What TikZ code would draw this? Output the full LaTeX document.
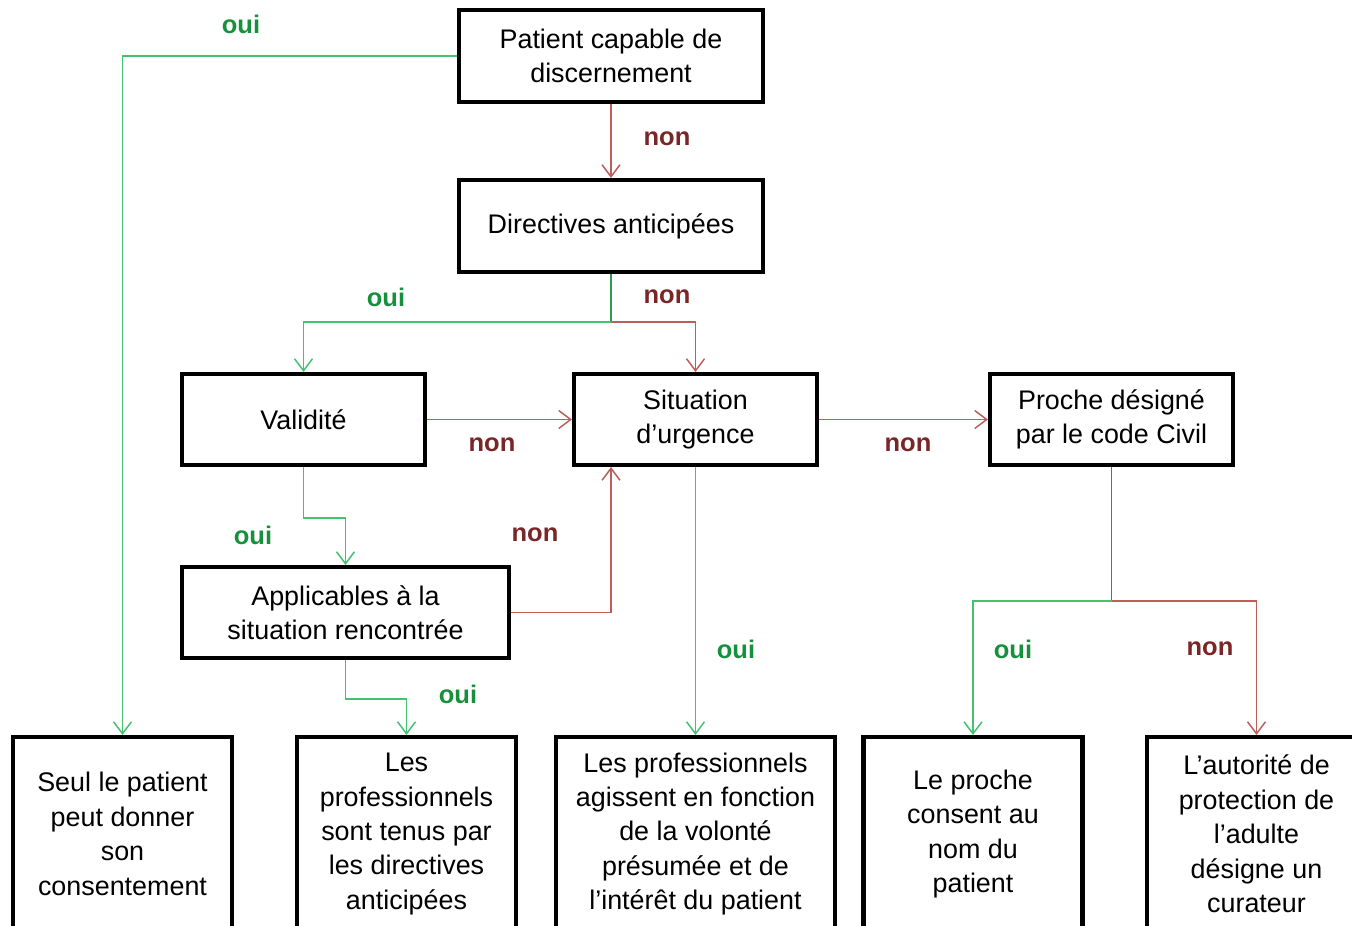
\documentclass[tikz,border=0pt]{standalone}
\usepackage{fontspec}
\setmainfont{Liberation Sans}
\setsansfont{Liberation Sans}
\usepackage{xcolor}
\usepackage{tikz}
\usetikzlibrary{arrows.meta, positioning}
\definecolor{OuiLine}{HTML}{45C270}
\definecolor{OuiStub}{HTML}{2E9A52}
\definecolor{NonLine}{HTML}{BC5E5A}
\definecolor{MixStub}{HTML}{7A6A48}
\definecolor{OuiText}{HTML}{17903C}
\definecolor{NonText}{HTML}{7B2626}

\begin{document}
\begin{tikzpicture}[
  x=0.2mm, y=-0.2mm,
  font=\fontsize{15.3}{19.6}\selectfont,
  box/.style={draw=black, line width=2.3pt, fill=white, align=center, inner sep=2pt},
  endbox/.style={box, minimum width=4.38cm, minimum height=3.88cm},
  oui/.style={-{Straight Barb[length=2.4mm, width=3.6mm]}, draw=OuiLine, line width=0.85pt},
  non/.style={-{Straight Barb[length=2.4mm, width=3.6mm]}, draw=NonLine, line width=0.85pt},
  ouilab/.style={font=\fontsize{14.5}{17}\selectfont\bfseries, text=OuiText},
  nonlab/.style={font=\fontsize{14.5}{17}\selectfont\bfseries, text=NonText}
]
\useasboundingbox (0,0) rectangle (1352,926);
\clip (0,0) rectangle (1352,926);

% questions
\node[box, minimum width=6.08cm, minimum height=1.84cm] (patient) at (611,56) {Patient capable de\\discernement};
\node[box, minimum width=6.08cm, minimum height=1.84cm] (directives) at (611,226) {Directives anticipées};
\node[box, minimum width=4.86cm, minimum height=1.82cm] (validite) at (303.5,419.5) {Validité};
\node[box, minimum width=4.86cm, minimum height=1.82cm] (urgence) at (695.5,419.5) {Situation\\d’urgence};
\node[box, minimum width=4.86cm, minimum height=1.82cm] (proche) at (1111.5,419.5) {Proche désigné\\par le code Civil};
\node[box, minimum width=6.54cm, minimum height=1.82cm] (applicables) at (345.5,612.5) {Applicables à la\\situation rencontrée};

% outcomes
\node[endbox] (seul) at (122.5,834) {Seul le patient\\peut donner\\son\\consentement};
\node[endbox] (tenus) at (406.5,834) {Les\\professionnels\\sont tenus par\\les directives\\anticipées};
\node[endbox, minimum width=5.58cm] (agissent) at (695.5,834) {Les professionnels\\agissent en fonction\\de la volonté\\présumée et de\\l’intérêt du patient};
\node[endbox] (consent) at (973,834) {Le proche\\consent au\\nom du\\patient};
\node[endbox] (autorite) at (1256.5,834) {L’autorité de\\protection de\\l’adulte\\désigne un\\curateur};

% connectors
\coordinate (fork1) at (611,322);
\coordinate (fork2) at (1111.5,601);
\draw[oui] (patient.west) -| (seul.north);
\draw[non] (patient) -- (directives);
\draw[draw=OuiStub, line width=0.85pt] (directives.south) -- (fork1);
\draw[oui] (fork1) -| (validite.north);
\draw[non] (fork1) -| (urgence.north);
\draw[non] (validite) -- (urgence);
\draw[oui] (validite.south) -- ++(0,51) -| (applicables.north);
\draw[non] (applicables.east) -| ([xshift=-1.69cm]urgence.south);
\draw[oui] (applicables.south) -- ++(0,39) -| (tenus.north);
\draw[oui] (urgence) -- (agissent);
\draw[non] (urgence) -- (proche);
\draw[draw=MixStub, line width=0.85pt] (proche.south) -- (fork2);
\draw[oui] (fork2) -| (consent.north);
\draw[non] (fork2) -| (autorite.north);

% labels
\node[ouilab] (l1) at (241,24) {oui};
\node[nonlab] (l2) at (667,139) {non};
\node[ouilab] (l3) at (386,297) {oui};
\node[nonlab] (l4) at (667,297) {non};
\node[nonlab] (l5) at (492,445) {non};
\node[nonlab] (l6) at (908,445) {non};
\node[ouilab] (l7) at (253,535) {oui};
\node[nonlab] (l8) at (535,535) {non};
\node[ouilab] (l9) at (736,649) {oui};
\node[ouilab] (l10) at (458,694) {oui};
\node[ouilab] (l11) at (1013,649) {oui};
\node[nonlab] (l12) at (1210,649) {non};
\end{tikzpicture}
\end{document}
